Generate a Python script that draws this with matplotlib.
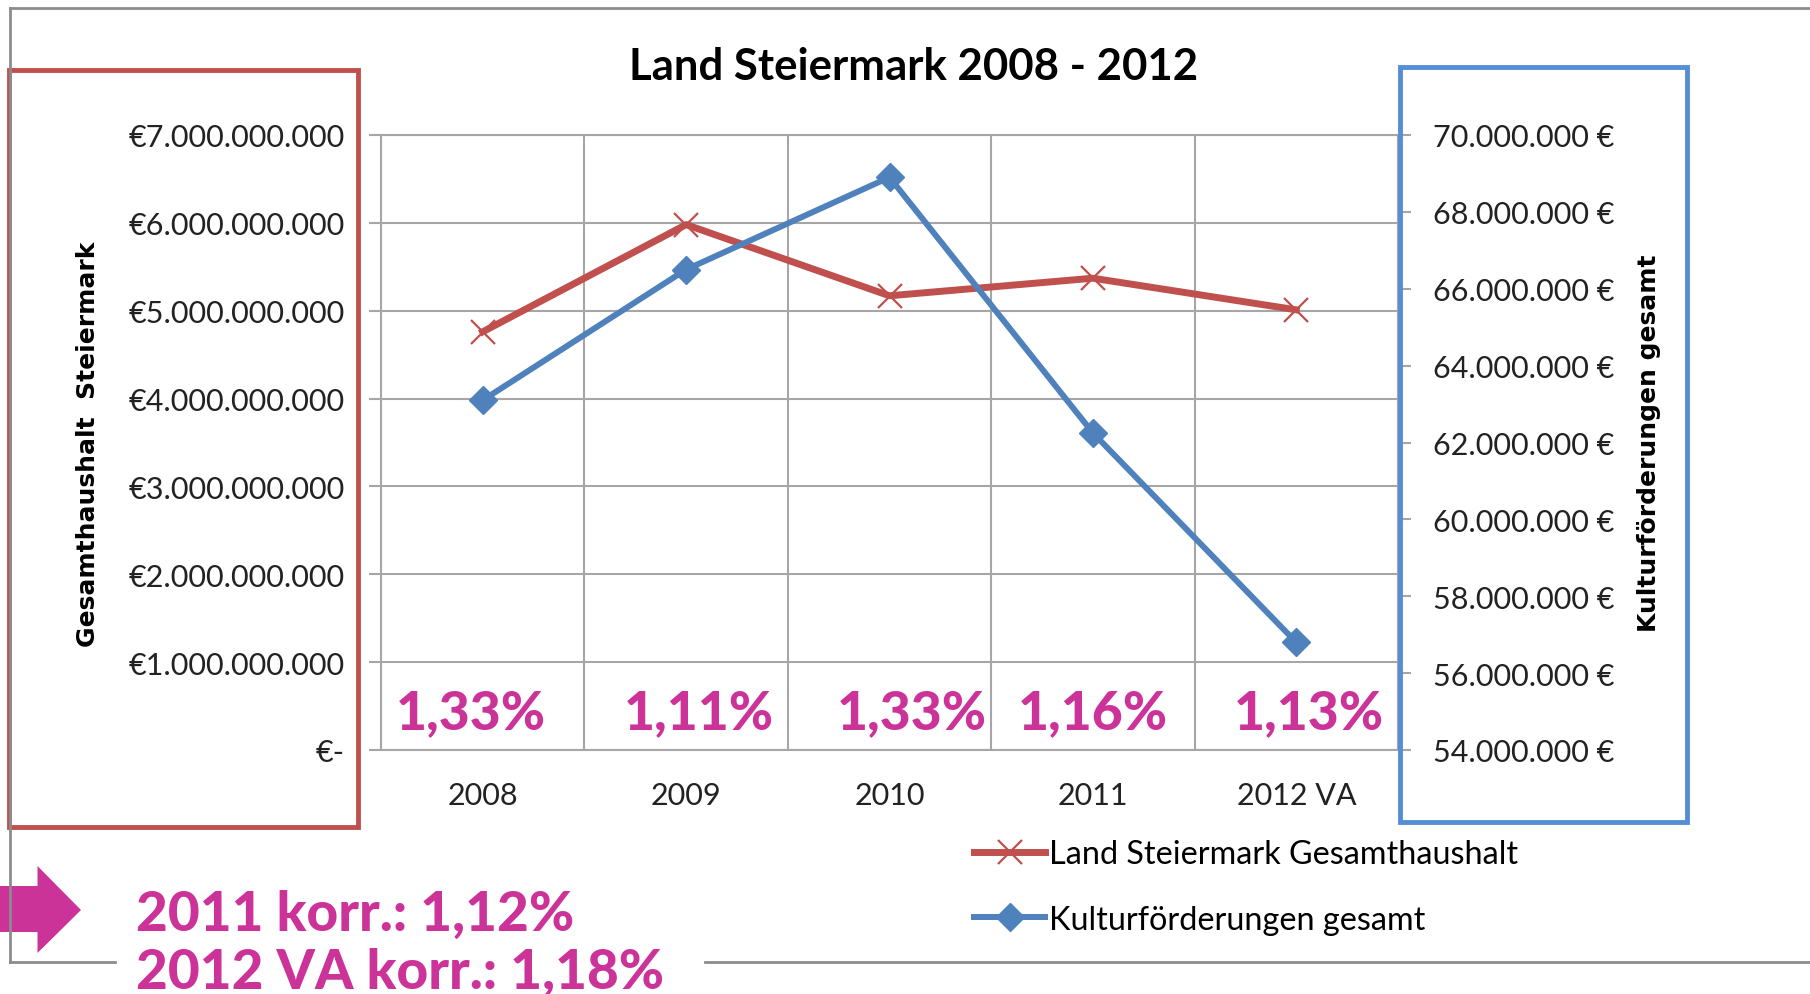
import matplotlib
matplotlib.use("Agg")
import matplotlib.pyplot as plt
from matplotlib.ticker import FuncFormatter, MultipleLocator
from matplotlib.patches import Polygon, Rectangle

# data
years = ["2008", "2009", "2010", "2011", "2012 VA"]
gesamthaushalt = [4.76e9, 5.98e9, 5.17e9, 5.37e9, 5.01e9]
kultur = [63.1e6, 66.5e6, 68.9e6, 62.25e6, 56.8e6]
anteil = ["1,33%", "1,11%", "1,33%", "1,16%", "1,13%"]
korrektur = ["2011 korr.: 1,12%", "2012 VA korr.: 1,18%"]

# label nudges (category units), as in the original slide
pct_shift = [-0.06, 0.065, 0.11, 0.0, 0.06]

RED = "#C0504D"
BLUE = "#4F81BD"
BOX_BLUE = "#558ED5"
MAGENTA = "#CC3399"
GRID = "#A6A6A6"

plt.rcParams['font.family'] = ['Lato', 'DejaVu Sans']

W, H = 1810, 995
fig = plt.figure(figsize=(W / 100, H / 100), dpi=100)

# plot area in pixels: left 381, right 1398, top 136, bottom 751
ax = fig.add_axes([381 / W, 1 - 751 / H, (1398 - 381) / W, (751 - 136) / H])
ax.set_xlim(-0.5, 4.5)
ax.set_ylim(0, 7e9)
ax.yaxis.set_major_locator(MultipleLocator(1e9))
ax.set_xticks(range(len(years)))
ax.set_xticklabels(years)
ax.set_xticks([i - 0.5 for i in range(len(years) + 1)], minor=True)
ax.grid(which='minor', axis='x', color=GRID, lw=1.5)
ax.grid(which='major', axis='y', color=GRID, lw=1.5)
ax.tick_params(axis='x', which='both', length=0, pad=22, labelsize=22, labelcolor='#222222')
ax.tick_params(axis='y', length=9, width=1.5, color=GRID, pad=17, labelsize=22, labelcolor='#222222')
for s in ax.spines.values():
    s.set_color(GRID)
    s.set_linewidth(1.5)


def euro_left(v, pos):
    if v == 0:
        return "€-"
    return "€" + f"{v:,.0f}".replace(",", ".")


def euro_right(v, pos):
    return f"{v:,.0f}".replace(",", ".") + " €"


ax.yaxis.set_major_formatter(FuncFormatter(euro_left))

ax.plot(range(len(years)), gesamthaushalt, color=RED, lw=5, marker='x',
        markersize=17, markeredgewidth=1.6, label="Land Steiermark Gesamthaushalt")

ax2 = ax.twinx()
ax2.set_ylim(54e6, 70e6)
ax2.yaxis.set_major_locator(MultipleLocator(2e6))
ax2.yaxis.set_major_formatter(FuncFormatter(euro_right))
ax2.tick_params(axis='y', length=9, width=1.5, color=GRID, pad=16, labelsize=22, labelcolor='#222222')
for s in ax2.spines.values():
    s.set_visible(False)
ax2.plot(range(len(years)), kultur, color=BLUE, lw=4.3, marker='D',
         markersize=14, label="Kulturförderungen gesamt")

for i, t in enumerate(anteil):
    ax.text(i + pct_shift[i], 0.25e9, t, ha='center', va='baseline',
            fontsize=38.5, fontweight='black', color=MAGENTA)

fig.text(914 / W, 1 - 67 / H, "Land Steiermark 2008 - 2012", ha='center', va='center',
         fontsize=31.5, fontweight='bold')
fig.text(88 / W, 1 - 444 / H, "Gesamthaushalt  Steiermark", rotation=90,
         ha='center', va='center', fontsize=18, fontweight='bold', family='DejaVu Sans')
fig.text(1649 / W, 1 - 443 / H, "Kulturförderungen gesamt", rotation=90,
         ha='center', va='center', fontsize=18, fontweight='bold', family='DejaVu Sans')

h1, l1 = ax.get_legend_handles_labels()
h2, l2 = ax2.get_legend_handles_labels()
fig.legend(h1 + h2, l1 + l2, loc='upper left', bbox_to_anchor=(974 / W, 1 - 840 / H),
           frameon=False, fontsize=23.3, handlelength=2.2, handletextpad=0.12,
           labelspacing=1.1, borderaxespad=0, borderpad=0)

# slide decorations in pixel coordinates
ov = fig.add_axes([0, 0, 1, 1])
ov.set_xlim(0, W)
ov.set_ylim(H, 0)
ov.axis('off')
ov.patch.set_alpha(0)

FRAME = "#8C8C8C"
ov.plot([10, 10], [9, 963], color=FRAME, lw=2)
ov.plot([10, W], [9, 9], color=FRAME, lw=2)
ov.plot([10, 115], [963, 963], color=FRAME, lw=2)
ov.plot([705, W], [963, 963], color=FRAME, lw=2)

ov.add_patch(Rectangle((9, 71), 349, 757, fill=False, edgecolor=RED, lw=3.5))
ov.add_patch(Rectangle((1400, 68), 287, 755, fill=False, edgecolor=BOX_BLUE, lw=3.5))
ov.add_patch(Polygon([(0, 887), (37.5, 887), (37.5, 867), (81, 911), (37.5, 954),
                      (37.5, 933), (0, 933)], closed=True, facecolor=MAGENTA, edgecolor='none'))

ov.text(136, 931, korrektur[0], ha='left', va='baseline', fontsize=39.5,
        fontweight='black', color=MAGENTA)
ov.text(136, 989, korrektur[1], ha='left', va='baseline', fontsize=39.5,
        fontweight='black', color=MAGENTA)

fig.savefig("out.png", dpi=100)
